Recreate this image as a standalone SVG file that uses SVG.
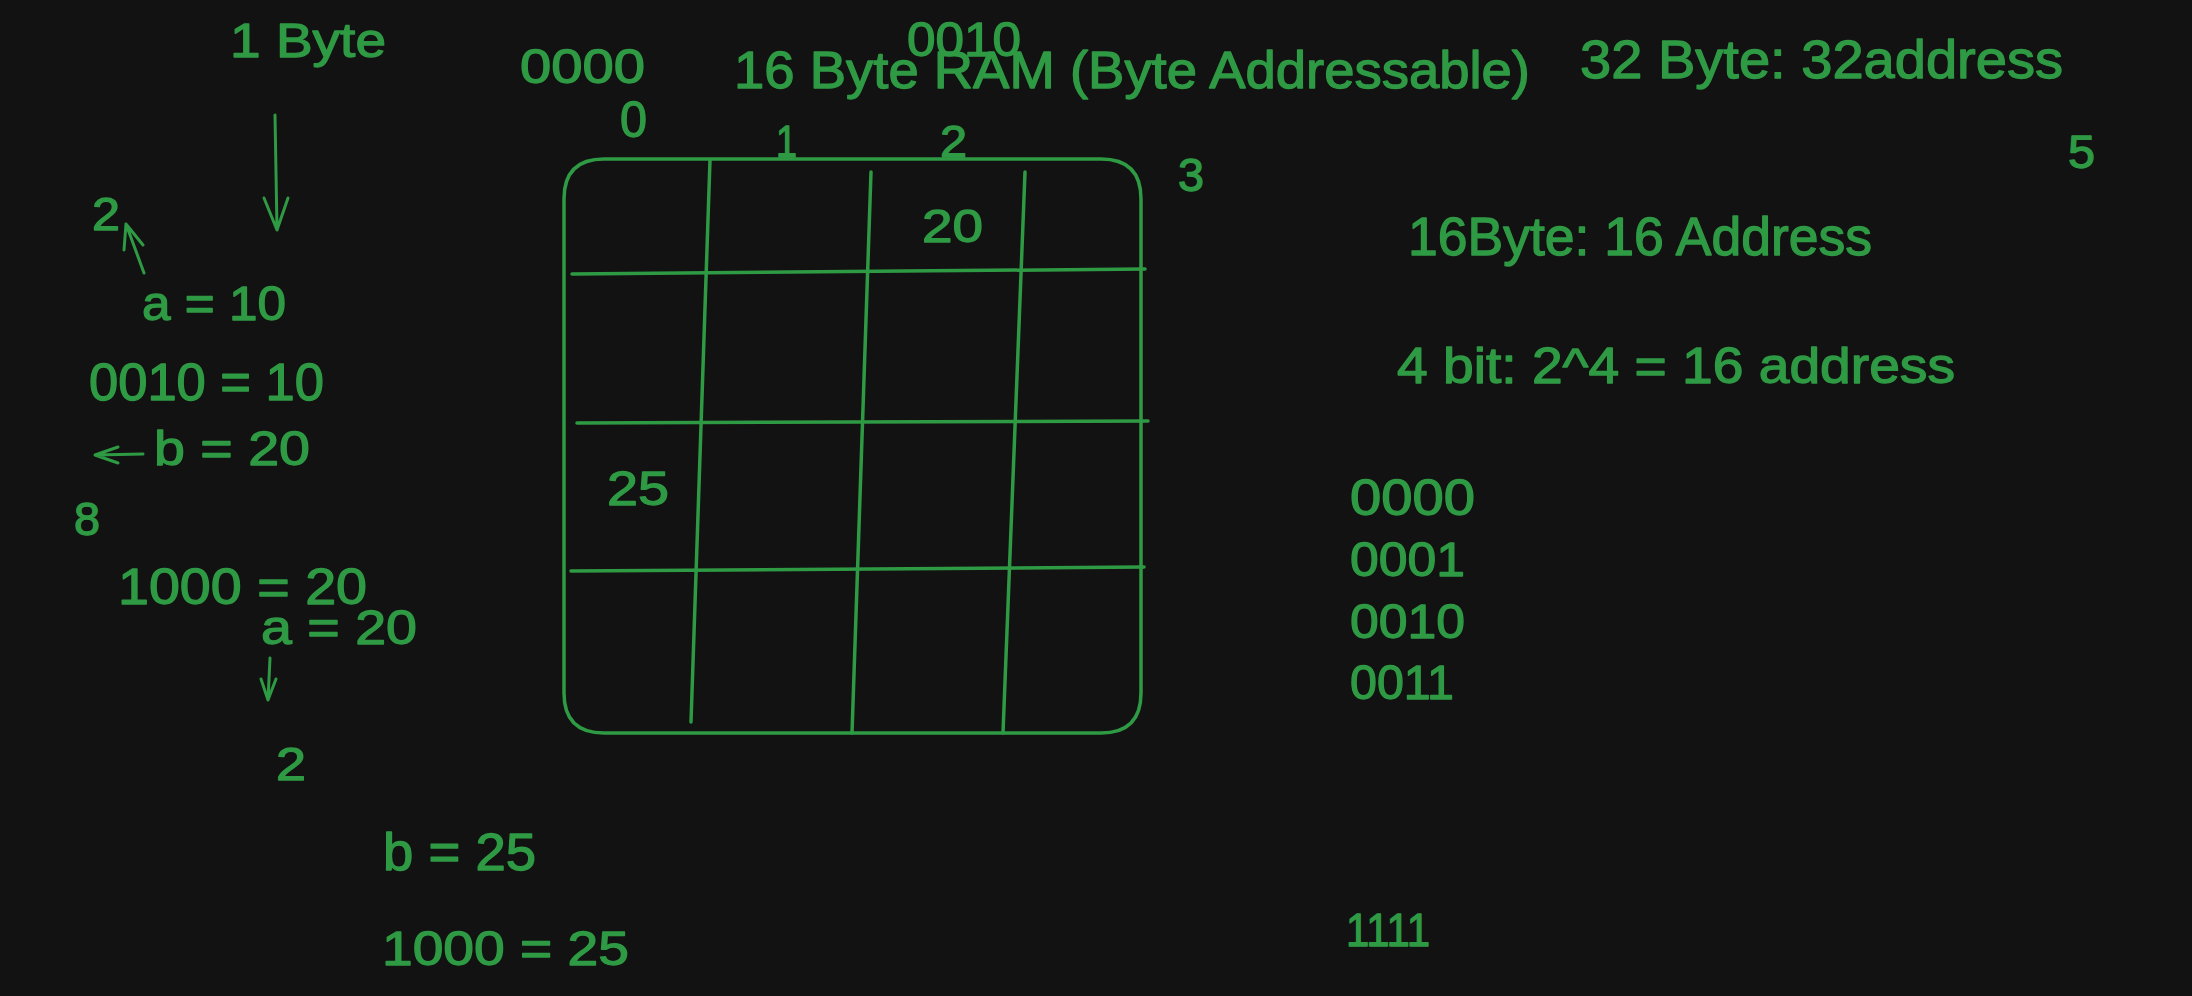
<svg xmlns="http://www.w3.org/2000/svg" width="2192" height="996" viewBox="0 0 2192 996">
<style>
  .t { font-family: "Liberation Sans", "DejaVu Sans", sans-serif; fill: #2f9a44; stroke: #2f9a44; stroke-width: 1.3; stroke-linejoin: round; }
  .ln { fill: none; stroke: #2f9a44; stroke-width: 3.5; stroke-linecap: round; stroke-linejoin: round; }
  .ar { fill: none; stroke: #2f9a44; stroke-width: 3; stroke-linecap: round; stroke-linejoin: round; }
</style>
<rect x="0" y="0" width="2192" height="996" fill="#121212"/>

<g id="ram-grid">
  <path class="ln" d="M604 159 L1101 159 Q1141 159 1141 199 L1141 693 Q1141 733 1101 733 L604 733 Q564 733 564 693 L564 199 Q564 159 604 159 Z"/>
  <path class="ln" d="M710 160 L691 722"/>
  <path class="ln" d="M871 172 L852 733"/>
  <path class="ln" d="M1025 172 L1003 733"/>
  <path class="ln" d="M572 274 L1145 269"/>
  <path class="ln" d="M577 423 L1148 421"/>
  <path class="ln" d="M571 571 L1144 567"/>
</g>

<g id="connectors">
  <path class="ar" d="M275 115 L277 230 M264 198 L277 230 L288 198"/>
  <path class="ar" d="M144 273 L126 224 M124 250 L126 224 L143 245"/>
  <path class="ar" d="M143 454 L95 455 M118 447 L95 455 L118 463"/>
  <path class="ar" d="M270 658 L268 700 M261 679 L268 700 L276 679"/>
</g>

<g id="label-1byte"><text class="t" x="230" y="57" font-size="49" textLength="156" lengthAdjust="spacingAndGlyphs">1 Byte</text></g>
<g id="label-0000-top"><text class="t" x="520" y="83" font-size="49" textLength="125" lengthAdjust="spacingAndGlyphs">0000</text></g>
<g id="label-col0"><text class="t" x="620" y="137" font-size="50" textLength="27" lengthAdjust="spacingAndGlyphs">0</text></g>
<g id="label-0010-top"><text class="t" x="907" y="56" font-size="48" textLength="114" lengthAdjust="spacingAndGlyphs">0010</text></g>
<g id="title"><text class="t" x="734" y="88" font-size="52" textLength="796" lengthAdjust="spacingAndGlyphs">16 Byte RAM (Byte Addressable)</text></g>
<g id="label-col1"><text class="t" x="776" y="157" font-size="45" textLength="21" lengthAdjust="spacingAndGlyphs">1</text></g>
<g id="label-col2"><text class="t" x="940" y="157" font-size="45" textLength="27" lengthAdjust="spacingAndGlyphs">2</text></g>
<g id="label-col3"><text class="t" x="1178" y="191" font-size="47" textLength="26" lengthAdjust="spacingAndGlyphs">3</text></g>
<g id="cell-20"><text class="t" x="922" y="242" font-size="47" textLength="61" lengthAdjust="spacingAndGlyphs">20</text></g>
<g id="cell-25"><text class="t" x="607" y="505" font-size="49" textLength="62" lengthAdjust="spacingAndGlyphs">25</text></g>

<g id="label-2-left"><text class="t" x="92" y="230" font-size="46" textLength="28" lengthAdjust="spacingAndGlyphs">2</text></g>
<g id="label-a10"><text class="t" x="142" y="320" font-size="49" textLength="144" lengthAdjust="spacingAndGlyphs">a = 10</text></g>
<g id="label-0010-10"><text class="t" x="89" y="400" font-size="51" textLength="235" lengthAdjust="spacingAndGlyphs">0010 = 10</text></g>
<g id="label-b20"><text class="t" x="154" y="465" font-size="49" textLength="156" lengthAdjust="spacingAndGlyphs">b = 20</text></g>
<g id="label-8"><text class="t" x="74" y="535" font-size="46" textLength="26" lengthAdjust="spacingAndGlyphs">8</text></g>
<g id="label-1000-20"><text class="t" x="118" y="604" font-size="50" textLength="249" lengthAdjust="spacingAndGlyphs">1000 = 20</text></g>
<g id="label-a20"><text class="t" x="261" y="644" font-size="49" textLength="156" lengthAdjust="spacingAndGlyphs">a = 20</text></g>
<g id="label-2-bottom"><text class="t" x="276" y="780" font-size="46" textLength="30" lengthAdjust="spacingAndGlyphs">2</text></g>
<g id="label-b25"><text class="t" x="383" y="870" font-size="51" textLength="153" lengthAdjust="spacingAndGlyphs">b = 25</text></g>
<g id="label-1000-25"><text class="t" x="382" y="965" font-size="49" textLength="247" lengthAdjust="spacingAndGlyphs">1000 = 25</text></g>

<g id="label-32byte"><text class="t" x="1580" y="78" font-size="54" textLength="483" lengthAdjust="spacingAndGlyphs">32 Byte: 32address</text></g>
<g id="label-5"><text class="t" x="2068" y="168" font-size="46" textLength="27" lengthAdjust="spacingAndGlyphs">5</text></g>
<g id="label-16byte"><text class="t" x="1408" y="255" font-size="53" textLength="464" lengthAdjust="spacingAndGlyphs">16Byte: 16 Address</text></g>
<g id="label-4bit"><text class="t" x="1397" y="383" font-size="50" textLength="558" lengthAdjust="spacingAndGlyphs">4 bit: 2^4 = 16 address</text></g>

<g id="addr-0000"><text class="t" x="1350" y="515" font-size="50" textLength="125" lengthAdjust="spacingAndGlyphs">0000</text></g>
<g id="addr-0001"><text class="t" x="1350" y="576" font-size="49" textLength="115" lengthAdjust="spacingAndGlyphs">0001</text></g>
<g id="addr-0010"><text class="t" x="1350" y="638" font-size="49" textLength="115" lengthAdjust="spacingAndGlyphs">0010</text></g>
<g id="addr-0011"><text class="t" x="1350" y="699" font-size="49" textLength="104" lengthAdjust="spacingAndGlyphs">0011</text></g>
<g id="addr-1111"><text class="t" x="1346" y="946" font-size="47" textLength="84" lengthAdjust="spacingAndGlyphs">1111</text></g>
</svg>
